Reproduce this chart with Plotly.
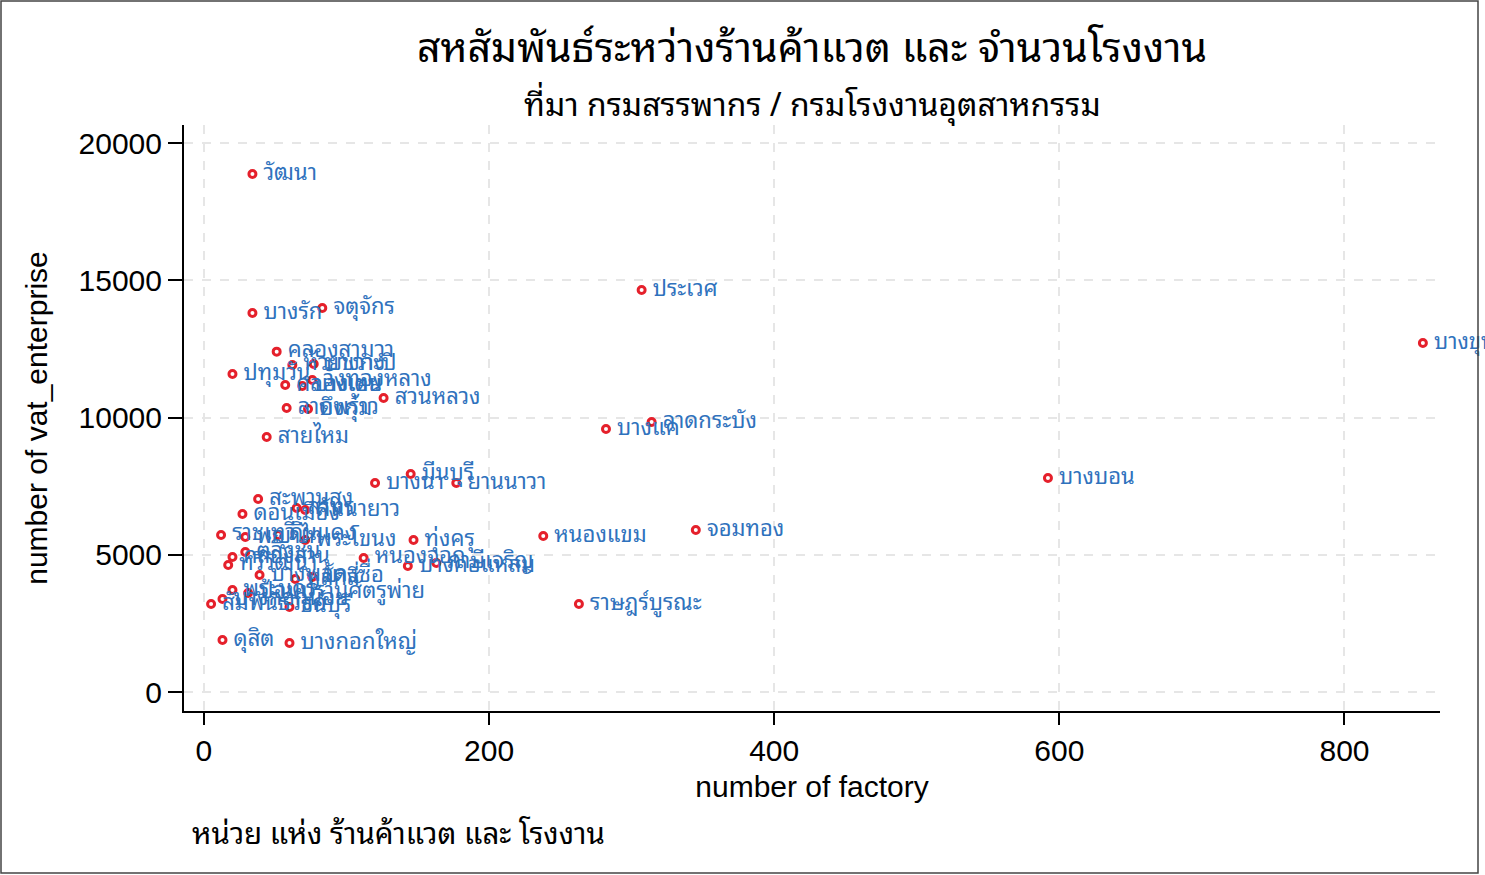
import plotly.graph_objects as go

districts = [
    "วัฒนา", "ประเวศ", "บางรัก", "จตุจักร", "บางขุนเทียน",
    "คลองสามวา", "ห้วยขวาง", "บางกะปิ", "ปทุมวัน", "คลองเตย",
    "บางเขน", "วังทองหลาง", "สวนหลวง", "ลาดพร้าว", "บึงกุ่ม",
    "สายไหม", "บางแค", "ลาดกระบัง", "มีนบุรี", "บางนา",
    "ยานนาวา", "บางบอน", "สะพานสูง", "สาทร", "คันนายาว",
    "ดอนเมือง", "ราชเทวี", "พญาไท", "ดินแดง", "พระโขนง",
    "ทุ่งครุ", "หนองแขม", "จอมทอง", "คลองสาน", "ตลิ่งชัน",
    "ทวีวัฒนา", "หนองจอก", "บางคอแหลม", "ภาษีเจริญ", "บางพลัด",
    "หลักสี่", "บางซื่อ", "พระนคร", "สัมพันธวงศ์", "บางกอกน้อย",
    "ป้อมปราบศัตรูพ่าย", "ธนบุรี", "ราษฎร์บูรณะ", "ดุสิต", "บางกอกใหญ่",
]

factory = [
    34, 307, 34, 83, 855,
    51, 62, 77, 20, 57,
    69, 76, 126, 58, 73,
    44, 282, 314, 145, 120,
    177, 592, 38, 65, 71,
    27, 12, 29, 52, 71,
    147, 238, 345, 20, 29,
    17, 112, 143, 163, 39,
    64, 76, 20, 5, 13,
    31, 60, 263, 13, 60,
]

vat_enterprise = [
    18870, 14645, 13807, 13989, 12714,
    12400, 11913, 11949, 11585, 11184,
    11148, 11366, 10710, 10346, 10310,
    9290, 9581, 9836, 7942, 7614,
    7614, 7796, 7031, 6703, 6630,
    6484, 5720, 5646, 5720, 5537,
    5537, 5683, 5901, 4918, 5100,
    4627, 4882, 4590, 4700, 4262,
    4116, 4190, 3716, 3206, 3388,
    3607, 3097, 3206, 1894, 1785,
]

x_ticks = [0, 200, 400, 600, 800]
y_ticks = [0, 5000, 10000, 15000, 20000]

title_text = "สหสัมพันธ์ระหว่างร้านค้าแวต และ จำนวนโรงงาน"
subtitle_text = "ที่มา กรมสรรพากร / กรมโรงงานอุตสาหกรรม"
note_text = "หน่วย แห่ง ร้านค้าแวต และ โรงงาน"

W, H = 1485, 875
ML, MR, MT, MB = 184, 45, 125, 164
thai_font = "Noto Sans Thai Looped, Thonburi, Noto Sans Thai, Noto Sans, sans-serif"
latin_font = "Liberation Sans, Arial, sans-serif"

labels = ["\u00a0" + d for d in districts]

fig = go.Figure()
fig.add_trace(go.Scatter(
    x=factory, y=vat_enterprise, text=labels,
    mode="markers+text", textposition="middle right",
    textfont=dict(family=thai_font, size=22, color="#2f72bd"),
    marker=dict(symbol="circle", size=7, color="white",
                line=dict(color="#e5202b", width=3)),
    cliponaxis=False, showlegend=False,
))

pw = W - ML - MR
ph = H - MT - MB

fig.update_layout(
    width=W, height=H,
    margin=dict(l=ML, r=MR, t=MT, b=MB),
    paper_bgcolor="white", plot_bgcolor="white",
    title=dict(
        text=title_text,
        x=(ML + pw / 2) / W, xanchor="center",
        y=1 - 48 / H, yanchor="middle",
        font=dict(family=thai_font, size=41, color="black"),
    ),
    xaxis=dict(
        range=[-14, 867], tickvals=x_ticks, ticks="outside", ticklen=12,
        tickwidth=2, tickcolor="black", showline=True, linecolor="black",
        linewidth=2, mirror=False, zeroline=False, tickformat="d",
        showgrid=True, gridcolor="#e6e6e6", gridwidth=2, griddash="dash",
        tickfont=dict(family=latin_font, size=30, color="black"),
        title=dict(text="number of factory", standoff=10,
                   font=dict(family=latin_font, size=30, color="black")),
    ),
    yaxis=dict(
        range=[-692, 20656], tickvals=y_ticks, ticks="outside", ticklen=14,
        tickwidth=2, tickcolor="black", showline=True, linecolor="black",
        linewidth=2, mirror=False, zeroline=False, tickformat="d",
        showgrid=True, gridcolor="#e6e6e6", gridwidth=2, griddash="dash",
        tickfont=dict(family=latin_font, size=30, color="black"),
        title=dict(text="number of vat_enterprise", standoff=22,
                   font=dict(family=latin_font, size=30, color="black")),
    ),
    annotations=[
        dict(
            text=subtitle_text, xref="paper", yref="paper",
            x=0.5, y=1 + (MT - 101) / ph,
            xanchor="center", yanchor="middle", showarrow=False,
            font=dict(family=thai_font, size=32, color="black"),
        ),
        dict(
            text=note_text, xref="paper", yref="paper",
            x=(190 - ML) / pw, y=-(830 - (H - MB)) / ph,
            xanchor="left", yanchor="middle", showarrow=False,
            font=dict(family=thai_font, size=29.5, color="black"),
        ),
    ],
    shapes=[dict(
        type="rect", xref="paper", yref="paper",
        x0=-(ML - 1) / pw, x1=1 + (MR - 7) / pw,
        y0=-(MB - 2) / ph, y1=1 + (MT - 1) / ph,
        line=dict(color="#444444", width=1.5), fillcolor="rgba(0,0,0,0)",
        layer="above",
    )],
)

fig.write_html("out.html", config={"displayModeBar": False},
               post_script="document.body.style.margin='0';")
